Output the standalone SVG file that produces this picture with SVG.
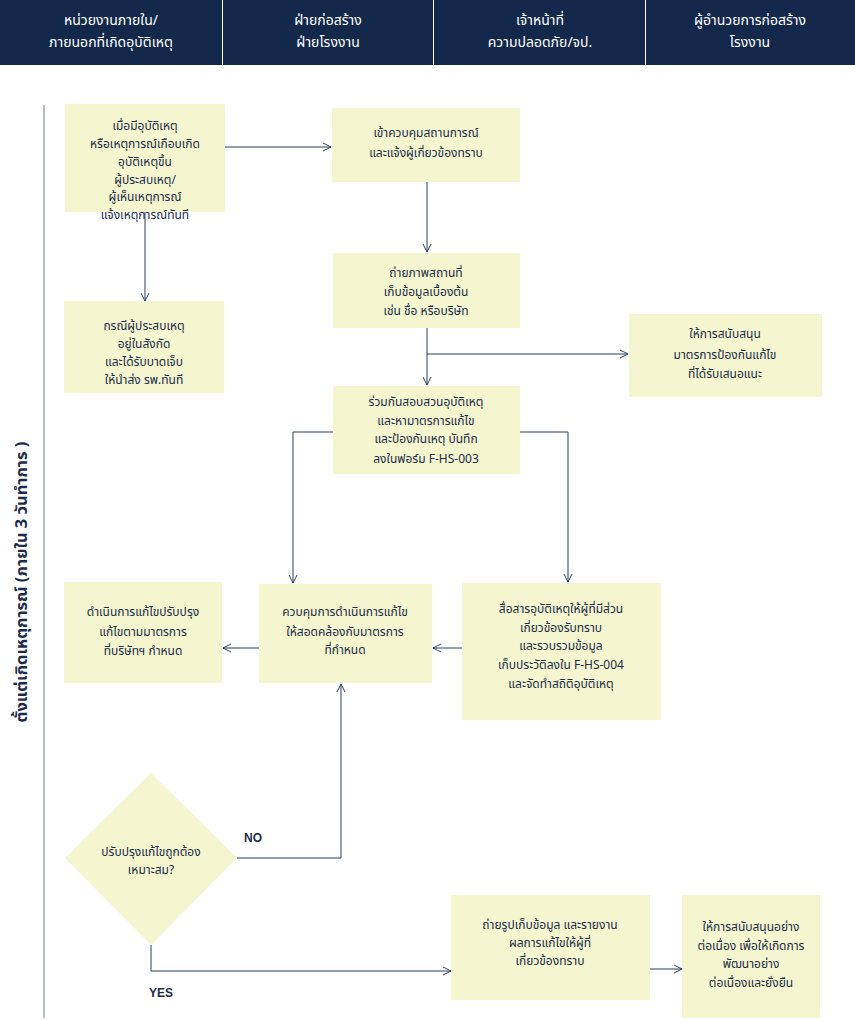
<svg xmlns="http://www.w3.org/2000/svg" width="855" height="1020" viewBox="0 0 855 1020">
<defs>
<marker id="arr" viewBox="0 0 10 10" refX="9" refY="5" markerWidth="10" markerHeight="10" markerUnits="userSpaceOnUse" orient="auto">
<path d="M1,1 L9,5 L1,9" fill="none" stroke="#2b3f5c" stroke-width="1"/>
</marker>
</defs>
<style>
.hdr{fill:#13284a}
.ht{fill:#ffffff;font-family:"Noto Sans","Noto Sans Thai","DejaVu Sans",sans-serif;font-size:14px;text-anchor:middle}
.box{fill:#f4f6cf}
.t{fill:#1c2b4a;font-family:"Noto Sans","Noto Sans Thai","DejaVu Sans",sans-serif;font-size:12px;text-anchor:middle}
.lbl{fill:#1c2b4a;font-family:"Liberation Sans",Arial,sans-serif;font-size:12px;font-weight:bold}
.c{fill:none;stroke:#2b3f5c;stroke-width:1}
</style>
<rect width="855" height="1020" fill="#ffffff"/>
<g id="header">
<rect class="hdr" x="0" y="0" width="855" height="65"/>
<line x1="222.5" y1="0" x2="222.5" y2="65" stroke="#ffffff" stroke-width="1"/>
<line x1="433.5" y1="0" x2="433.5" y2="65" stroke="#ffffff" stroke-width="1"/>
<line x1="645.5" y1="0" x2="645.5" y2="65" stroke="#ffffff" stroke-width="1"/>
<text class="ht" x="111" y="25">หน่วยงานภายใน/</text>
<text class="ht" x="111" y="47">ภายนอกที่เกิดอุบัติเหตุ</text>
<text class="ht" x="328" y="25">ฝ่ายก่อสร้าง</text>
<text class="ht" x="328" y="47">ฝ่ายโรงงาน</text>
<text class="ht" x="540" y="25">เจ้าหน้าที่</text>
<text class="ht" x="540" y="47">ความปลอดภัย/จป.</text>
<text class="ht" x="750" y="25">ผู้อำนวยการก่อสร้าง</text>
<text class="ht" x="750" y="47">โรงงาน</text>
</g>
<g id="lane">
<line x1="44" y1="105" x2="44" y2="1018" stroke="#6b7d90" stroke-width="1"/>
<text transform="translate(27,582) rotate(-90)" fill="#1c2b4a" font-family="'Noto Sans','Noto Sans Thai','DejaVu Sans',sans-serif" font-size="16.5" font-weight="bold" text-anchor="middle">ตั้งแต่เกิดเหตุการณ์ (ภายใน 3 วันทำการ )</text>
</g>
<g id="connectors">
<line class="c" x1="225" y1="147" x2="331" y2="147" marker-end="url(#arr)"/>
<line class="c" x1="145" y1="212" x2="145" y2="301" marker-end="url(#arr)"/>
<line class="c" x1="427" y1="182" x2="427" y2="252" marker-end="url(#arr)"/>
<line class="c" x1="427" y1="328" x2="427" y2="385" marker-end="url(#arr)"/>
<line class="c" x1="427" y1="354" x2="628" y2="354" marker-end="url(#arr)"/>
<polyline class="c" points="333,432 293,432 293,583" marker-end="url(#arr)"/>
<polyline class="c" points="520,432 568,432 568,582" marker-end="url(#arr)"/>
<line class="c" x1="462" y1="648" x2="433" y2="648" marker-end="url(#arr)"/>
<line class="c" x1="259" y1="648" x2="223" y2="648" marker-end="url(#arr)"/>
<polyline class="c" points="237,858 341,858 341,684" marker-end="url(#arr)"/>
<polyline class="c" points="151,945 151,971 451,971" marker-end="url(#arr)"/>
<line class="c" x1="650" y1="969" x2="682" y2="969" marker-end="url(#arr)"/>
<text class="lbl" x="244" y="842">NO</text>
<text class="lbl" x="149" y="997">YES</text>
</g>
<g id="n1">
<rect class="box" x="65" y="104" width="160" height="108"/>
<text class="t" x="145" y="130">เมื่อมีอุบัติเหตุ</text>
<text class="t" x="145" y="148">หรือเหตุการณ์เกือบเกิด</text>
<text class="t" x="145" y="166">อุบัติเหตุขึ้น</text>
<text class="t" x="145" y="184">ผู้ประสบเหตุ/</text>
<text class="t" x="145" y="201">ผู้เห็นเหตุการณ์</text>
<text class="t" x="145" y="219">แจ้งเหตุการณ์ทันที</text>
</g>
<g id="n2">
<rect class="box" x="64" y="301" width="160" height="92"/>
<text class="t" x="144" y="330">กรณีผู้ประสบเหตุ</text>
<text class="t" x="144" y="348">อยู่ในสังกัด</text>
<text class="t" x="144" y="366">และได้รับบาดเจ็บ</text>
<text class="t" x="144" y="384">ให้นำส่ง รพ.ทันที</text>
</g>
<g id="n3">
<rect class="box" x="332" y="108" width="188" height="74"/>
<text class="t" x="426" y="137">เข้าควบคุมสถานการณ์</text>
<text class="t" x="426" y="157">และแจ้งผู้เกี่ยวข้องทราบ</text>
</g>
<g id="n4">
<rect class="box" x="333" y="253" width="187" height="75"/>
<text class="t" x="426" y="277">ถ่ายภาพสถานที่</text>
<text class="t" x="426" y="296">เก็บข้อมูลเบื้องต้น</text>
<text class="t" x="426" y="315">เช่น ชื่อ หรือบริษัท</text>
</g>
<g id="n5">
<rect class="box" x="629" y="314" width="193" height="83"/>
<text class="t" x="725" y="338">ให้การสนับสนุน</text>
<text class="t" x="725" y="359">มาตรการป้องกันแก้ไข</text>
<text class="t" x="725" y="378">ที่ได้รับเสนอแนะ</text>
</g>
<g id="n6">
<rect class="box" x="333" y="386" width="187" height="88"/>
<text class="t" x="426" y="406">ร่วมกันสอบสวนอุบัติเหตุ</text>
<text class="t" x="426" y="425">และหามาตรการแก้ไข</text>
<text class="t" x="426" y="443">และป้องกันเหตุ บันทึก</text>
<text class="t" x="426" y="463">ลงในฟอร์ม F-HS-003</text>
</g>
<g id="n7">
<rect class="box" x="64" y="582" width="158" height="101"/>
<text class="t" x="143" y="616">ดำเนินการแก้ไขปรับปรุง</text>
<text class="t" x="143" y="636">แก้ไขตามมาตรการ</text>
<text class="t" x="143" y="655">ที่บริษัทฯ กำหนด</text>
</g>
<g id="n8">
<rect class="box" x="259" y="584" width="173" height="99"/>
<text class="t" x="345" y="616">ควบคุมการดำเนินการแก้ไข</text>
<text class="t" x="345" y="636">ให้สอดคล้องกับมาตรการ</text>
<text class="t" x="345" y="654">ที่กำหนด</text>
</g>
<g id="n9">
<rect class="box" x="462" y="583" width="199" height="137"/>
<text class="t" x="561" y="613">สื่อสารอุบัติเหตุให้ผู้ที่มีส่วน</text>
<text class="t" x="561" y="632">เกี่ยวข้องรับทราบ</text>
<text class="t" x="561" y="650">และรวบรวมข้อมูล</text>
<text class="t" x="561" y="669">เก็บประวัติลงใน F-HS-004</text>
<text class="t" x="561" y="688">และจัดทำสถิติอุบัติเหตุ</text>
</g>
<g id="n10">
<polygon class="box" points="151,773 237,858 151,945 65,858"/>
<text class="t" x="151" y="856">ปรับปรุงแก้ไขถูกต้อง</text>
<text class="t" x="151" y="874">เหมาะสม?</text>
</g>
<g id="n11">
<rect class="box" x="451" y="895" width="199" height="105"/>
<text class="t" x="550" y="929">ถ่ายรูปเก็บข้อมูล และรายงาน</text>
<text class="t" x="550" y="947">ผลการแก้ไขให้ผู้ที่</text>
<text class="t" x="550" y="965">เกี่ยวข้องทราบ</text>
</g>
<g id="n12">
<rect class="box" x="682" y="895" width="138" height="123"/>
<text class="t" x="751" y="931">ให้การสนับสนุนอย่าง</text>
<text class="t" x="751" y="950">ต่อเนื่อง เพื่อให้เกิดการ</text>
<text class="t" x="751" y="968">พัฒนาอย่าง</text>
<text class="t" x="751" y="987">ต่อเนื่องและยั่งยืน</text>
</g>
</svg>
